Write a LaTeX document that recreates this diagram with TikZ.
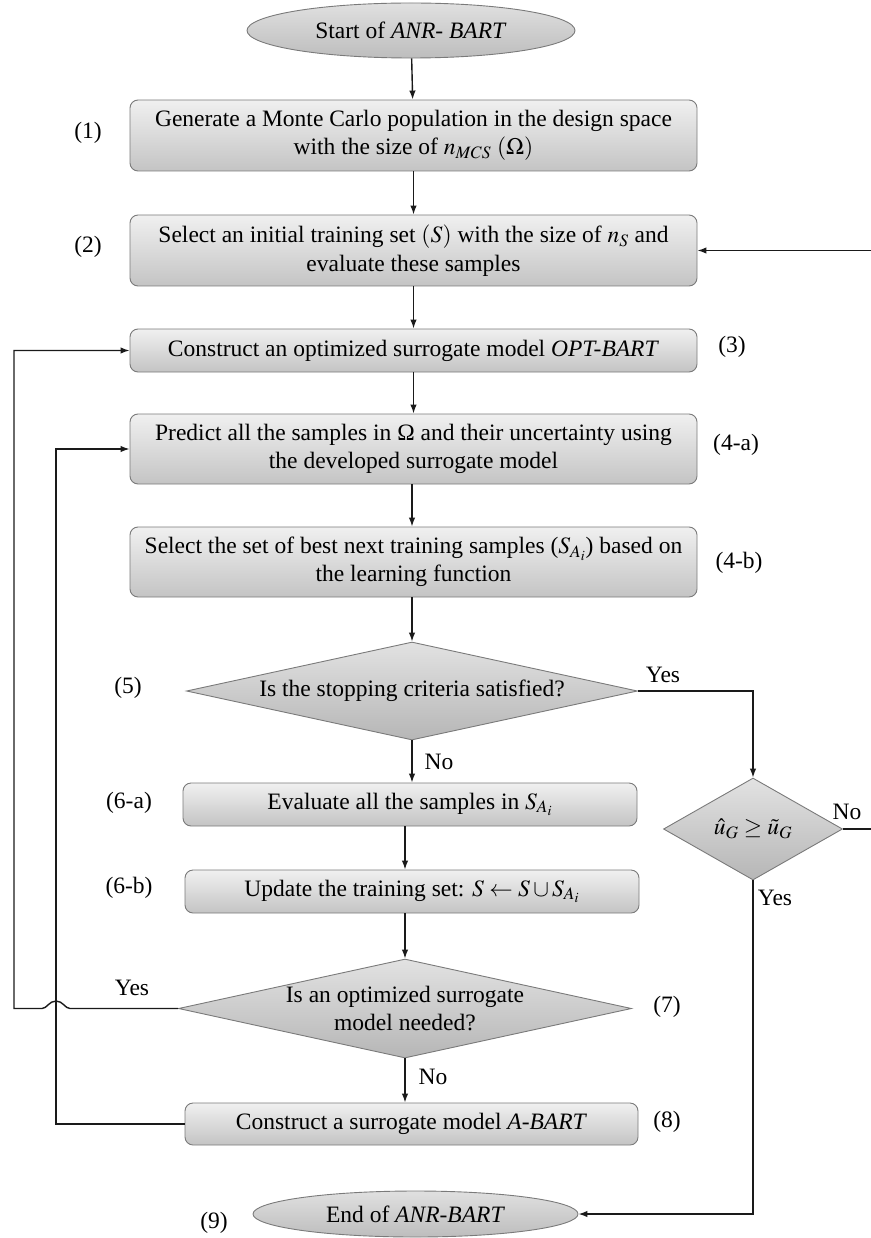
\documentclass[tikz,border=0pt]{standalone}
\usepackage{mathptmx}
\usepackage{fontspec}
\setmainfont{Liberation Serif}
\usetikzlibrary{shapes.geometric,arrows.meta}
\definecolor{boxtop}{HTML}{F0F0F0}
\definecolor{boxbot}{HTML}{C4C4C4}
\definecolor{boxborder}{HTML}{7A7A7A}
\definecolor{elltop}{HTML}{E0E0E0}
\definecolor{ellbot}{HTML}{BDBDBD}
\definecolor{diatop}{HTML}{E2E2E2}
\definecolor{diabot}{HTML}{B6B6B6}
\definecolor{linec}{HTML}{1A1A1A}
\begin{document}
\begin{tikzpicture}[x=1pt,y=-1pt,
  every node/.style={font=\fontsize{23.5}{28.5}\selectfont},
  proc/.style={rectangle, draw=boxborder, line width=0.9pt, rounded corners=8pt, top color=boxtop, bottom color=boxbot, inner sep=0pt, align=center},
  term/.style={ellipse, draw=boxborder, line width=0.9pt, top color=elltop, bottom color=ellbot, inner sep=0pt},
  decide/.style={diamond, draw=boxborder, line width=0.9pt, top color=diatop, bottom color=diabot, inner sep=0pt},
  arr/.style={-{Latex[length=9pt,width=6.5pt]}, line width=1.4pt, draw=linec},
  ln/.style={line width=1.4pt, draw=linec},
  tag/.style={inner sep=0pt, align=center}
]
\useasboundingbox (0,0) rectangle (870,1238);

% terminals and processes
\node[term, minimum width=328pt, minimum height=55pt] (start) at (411,30.5) {Start of \textit{ANR- BART}};
\node[proc, minimum width=567pt, minimum height=71pt] (b1) at (413.5,135.5)
  {Generate a Monte Carlo population in the design space\\ with the size of $n_{MCS}$ $(\Omega)$};
\node[proc, minimum width=567pt, minimum height=71pt] (b2) at (413.5,250.5)
  {Select an initial training set $(S)$ with the size of $n_S$ and\\ evaluate these samples};
\node[proc, minimum width=567pt, minimum height=43pt] (b3) at (413.5,350.5)
  {Construct an optimized surrogate model \textit{OPT-BART}};
\node[proc, minimum width=567pt, minimum height=70pt] (b4a) at (413.5,449)
  {Predict all the samples in Ω and their uncertainty using\\ the developed surrogate model};
\node[proc, minimum width=567pt, minimum height=70pt] (b4b) at (413.5,562)
  {Select the set of best next training samples ($S_{A_i}$) based on\\ the learning function};
\node[decide, minimum width=451pt, minimum height=98pt,
  label={[name=d5t]center:Is the stopping criteria satisfied?}] (d5) at (412,691) {};
\node[proc, minimum width=454pt, minimum height=43pt] (b6a) at (410,804.5)
  {Evaluate all the samples in $S_{A_i}$};
\node[proc, minimum width=454pt, minimum height=43pt] (b6b) at (412,891.5)
  {Update the training set: $S \leftarrow S \cup S_{A_i}$};
\node[decide, minimum width=453pt, minimum height=99pt,
  label={[name=d7t, align=center]center:Is an optimized surrogate\\ model needed?}] (d7) at (405,1008.5) {};
\node[proc, minimum width=453pt, minimum height=42pt] (b8) at (411.5,1124)
  {Construct a surrogate model \textit{A-BART}};
\node[term, minimum width=325pt, minimum height=46pt] (end) at (415.5,1214) {End of \textit{ANR-BART}};
\node[decide, aspect=1.75, minimum width=179pt, minimum height=102pt] (dug) at (753,829)
  {$\hat{u}_G \geq \tilde{u}_G$};

% step tags
\node[tag] (t1) at (88,133) {(1)};
\node[tag] (t2) at (88,247) {(2)};
\node[tag] (t3) at (732,347) {(3)};
\node[tag] (t4a) at (736,445) {(4-a)};
\node[tag] (t4b) at (739,563) {(4-b)};
\node[tag] (t5) at (128,688) {(5)};
\node[tag] (t6a) at (129,803) {(6-a)};
\node[tag] (t6b) at (129,888) {(6-b)};
\node[tag] (t7) at (667,1007) {(7)};
\node[tag] (t8) at (667,1122) {(8)};
\node[tag] (t9) at (214,1223) {(9)};

% connector labels
\node[tag] (y5) at (663,675) {Yes};
\node[tag] (n5) at (439,762) {No};
\node[tag] (nug) at (847,812) {No};
\node[tag] (yug) at (775,898) {Yes};
\node[tag] (y7) at (132,988) {Yes};
\node[tag] (n7) at (433,1077) {No};

% helper coordinates
\coordinate (rt) at (875,250.5);
\coordinate (lo) at (14,350.5);
\coordinate (li) at (56,449);
\coordinate (ja) at (70,1008.5);
\coordinate (jt) at (56,1001);
\coordinate (jb) at (42,1008.5);

% main flow
\draw[arr] (start) -- (b1);
\draw[arr] (b1) -- (b2);
\draw[arr] (b2) -- (b3);
\draw[arr] (b3) -- (b4a);
\draw[arr] (b4a.south -| d5.north) -- (b4b.north -| d5.north);
\draw[arr] (b4b.south -| d5.north) -- (d5.north);
\draw[arr] (d5.south) -- (b6a.north -| d5.south);
\draw[arr] (b6a.south -| d7.north) -- (b6b.north -| d7.north);
\draw[arr] (b6b.south -| d7.north) -- (d7.north);
\draw[arr] (d7.south) -- (b8.north -| d7.south);

% right branch
\draw[arr] (d5.east) -| (dug.north);
\draw[arr] (dug.south) |- (end.east);
\draw[arr] (dug.east) -| (rt) -- (b2.east);

% left loops
\draw[arr] (b8.west) -| (li) -- (b4a.west);
\draw[arr] (d7.west) -- (ja) .. controls (65,1008.5) and (63,1001) .. (jt)
  .. controls (49,1001) and (47,1008.5) .. (jb) -| (lo) -- (b3.west);
\end{tikzpicture}
\end{document}
